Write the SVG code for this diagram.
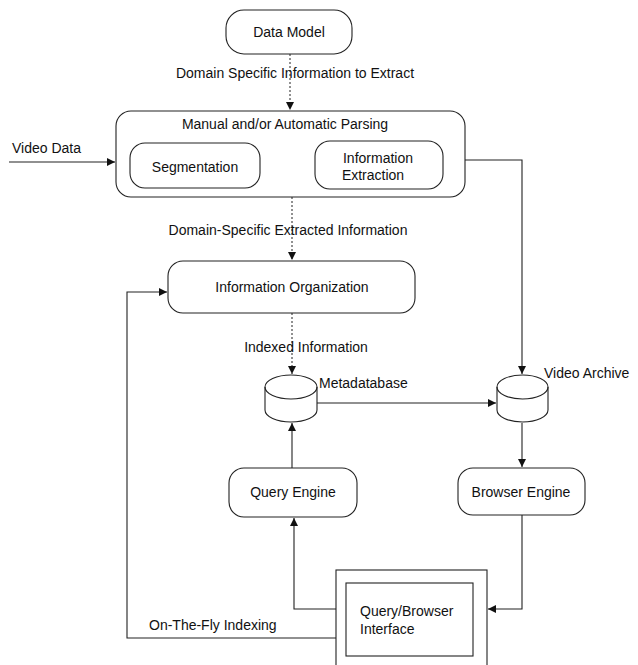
<svg xmlns="http://www.w3.org/2000/svg" width="638" height="665" viewBox="0 0 638 665">
<defs>
<style>
.box{fill:#fff;stroke:#222;stroke-width:1.1}
.ln{fill:none;stroke:#222;stroke-width:1.1}
.dash{fill:none;stroke:#222;stroke-width:1;stroke-dasharray:2,2}
text{font-family:"Liberation Sans",Arial,sans-serif;font-size:14px;fill:#111}
.c{text-anchor:middle}
</style>
<marker id="ah" viewBox="0 0 10 10" refX="10" refY="5" markerWidth="8" markerHeight="8" markerUnits="userSpaceOnUse" orient="auto">
<path d="M0,0 L10,5 L0,10 z" fill="#111"/>
</marker>
</defs>
<rect width="638" height="665" fill="#fff"/>

<g id="connectors">
<line class="dash" x1="290" y1="54" x2="290" y2="110" marker-end="url(#ah)"/>
<line class="ln" x1="9" y1="162" x2="115" y2="162" marker-end="url(#ah)"/>
<line class="ln" x1="260" y1="164" x2="314" y2="164" marker-end="url(#ah)"/>
<line class="dash" x1="292" y1="197" x2="292" y2="260" marker-end="url(#ah)"/>
<polyline class="ln" points="465,160 522,160 522,374" marker-end="url(#ah)"/>
<line class="dash" x1="292" y1="313" x2="292" y2="374" marker-end="url(#ah)"/>
<line class="ln" x1="317" y1="403" x2="496" y2="403" marker-end="url(#ah)"/>
<line class="ln" x1="292" y1="468" x2="292" y2="423" marker-end="url(#ah)"/>
<line class="ln" x1="522" y1="423" x2="522" y2="467" marker-end="url(#ah)"/>
<polyline class="ln" points="336,609 294,609 294,518" marker-end="url(#ah)"/>
<polyline class="ln" points="522,515 522,609 488,609" marker-end="url(#ah)"/>
<polyline class="ln" points="336,638 127,638 127,292 167,292" marker-end="url(#ah)"/>
<text class="c" x="295" y="78">Domain Specific Information to Extract</text>
<text class="c" x="288" y="235">Domain-Specific Extracted Information</text>
<text class="c" x="306" y="352">Indexed Information</text>
<text x="12" y="153">Video Data</text>
<text x="149" y="630">On-The-Fly Indexing</text>
</g>

<g id="data-model">
<rect class="box" x="226" y="10" width="126" height="44" rx="18"/>
<text class="c" x="289" y="37">Data Model</text>
</g>

<g id="parsing">
<rect class="box" x="116" y="111" width="349" height="86" rx="15"/>
<text class="c" x="285" y="129">Manual and/or Automatic Parsing</text>
</g>

<g id="segmentation">
<rect class="box" x="130" y="143" width="130" height="45" rx="15"/>
<text class="c" x="195" y="172">Segmentation</text>
</g>

<g id="information-extraction">
<rect class="box" x="315" y="141" width="128" height="48" rx="15"/>
<text class="c" x="378" y="163">Information</text>
<text class="c" x="373" y="180">Extraction</text>
</g>

<g id="information-organization">
<rect class="box" x="168" y="261" width="247" height="52" rx="15"/>
<text class="c" x="292" y="292">Information Organization</text>
</g>

<g id="metadatabase">
<path class="box" d="M265,387 A26,12 0 0 1 317,387 L317,410 A26,12 0 0 1 265,410 Z"/>
<path class="ln" d="M265,387 A26,12 0 0 0 317,387"/>
<text x="319" y="388">Metadatabase</text>
</g>

<g id="video-archive">
<path class="box" d="M497,387 A25.5,12 0 0 1 548,387 L548,410 A25.5,12 0 0 1 497,410 Z"/>
<path class="ln" d="M497,387 A25.5,12 0 0 0 548,387"/>
<text x="544" y="378">Video Archive</text>
</g>

<g id="query-engine">
<rect class="box" x="229" y="468" width="128" height="49" rx="15"/>
<text class="c" x="293" y="497">Query Engine</text>
</g>

<g id="browser-engine">
<rect class="box" x="458" y="468" width="127" height="47" rx="15"/>
<text class="c" x="521" y="497">Browser Engine</text>
</g>

<g id="query-browser-interface">
<rect class="box" x="336" y="570" width="151" height="110"/>
<rect class="box" x="346" y="583" width="127" height="73"/>
<text x="360" y="616">Query/Browser</text>
<text x="360" y="634">Interface</text>
</g>
</svg>
